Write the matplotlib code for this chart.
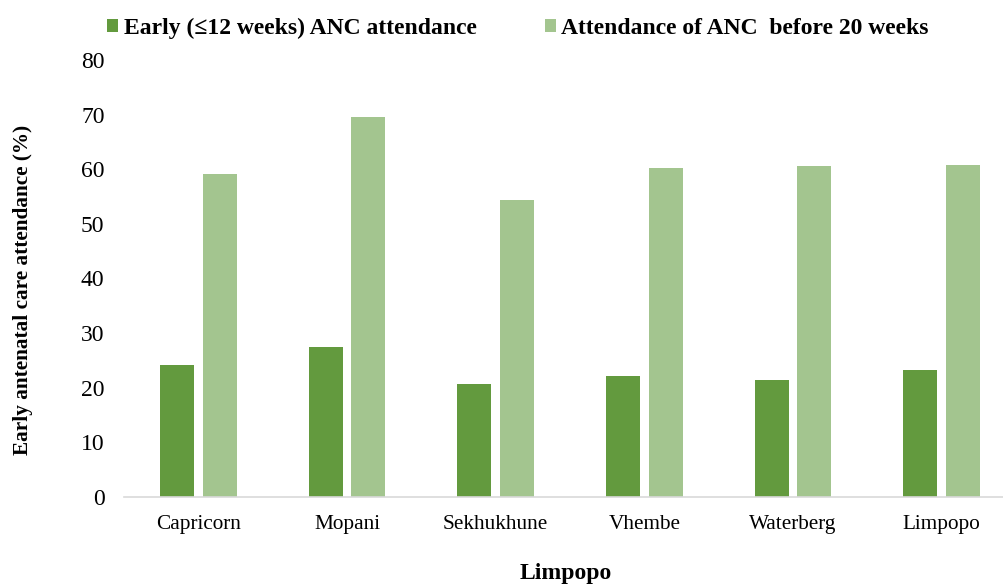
import numpy as np
import matplotlib
matplotlib.use("Agg")
import matplotlib.pyplot as plt

# datos
districts = ["Capricorn", "Mopani", "Sekhukhune", "Vhembe", "Waterberg", "Limpopo"]
early_12 = [24.2, 27.5, 20.6, 22.2, 21.5, 23.2]
before_20 = [59.1, 69.6, 54.4, 60.2, 60.6, 60.7]
series_names = ["Early (\u226412 weeks) ANC attendance", "Attendance of ANC  before 20 weeks"]

dark = "#639A3E"
light = "#A3C58F"

plt.rcParams['font.family'] = ['Liberation Serif', 'DejaVu Serif']

fig = plt.figure(figsize=(10.04, 5.85), dpi=100)
ax = fig.add_axes([124 / 1004, 88 / 585, 892 / 1004, 437 / 585])

x = np.arange(len(districts))
w = 0.229
off = 0.143
b1 = ax.bar(x - off, early_12, width=w, color=dark, label=series_names[0])
b2 = ax.bar(x + off, before_20, width=w, color=light, label=series_names[1])

ax.set_xlim(-0.5, len(districts) - 0.5)
ax.set_ylim(0, 80)
ax.set_yticks(range(0, 81, 10))
ax.set_xticks(x)
ax.set_xticklabels(districts, fontsize=15.3)
ax.tick_params(axis='y', labelsize=17, length=0, pad=14)
ax.tick_params(axis='x', length=0, pad=13)

for s in ["top", "right", "left"]:
    ax.spines[s].set_visible(False)
ax.spines["bottom"].set_color("#D9D9D9")
ax.spines["bottom"].set_linewidth(1.2)

fig.text(23 / 1004, 1 - 290 / 585, "Early antenatal care attendance (%)", rotation=90,
         fontsize=15.3, fontweight="bold", ha="center", va="center")
fig.text(566 / 1004, 1 - 573 / 585, "Limpopo", fontsize=17, fontweight="bold", ha="center", va="center")

fig.legend(handles=[b1, b2], labels=series_names, loc="center",
           bbox_to_anchor=(518 / 1004, 1 - 28 / 585), ncol=2, frameon=False,
           prop={"weight": "bold", "size": 17}, handlelength=0.45, handleheight=0.45,
           handletextpad=0.25, columnspacing=2.9)

plt.savefig("out.png", dpi=100)
